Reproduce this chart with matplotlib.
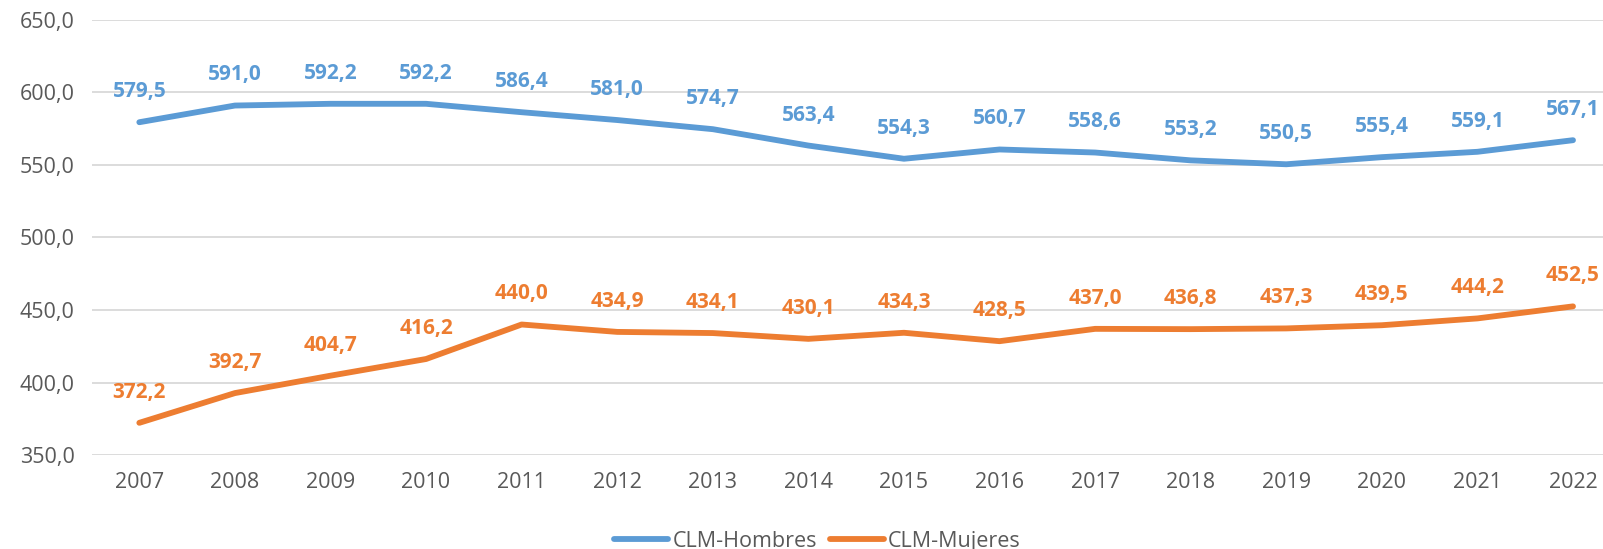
import matplotlib.pyplot as plt

plt.rcParams['font.family'] = ['Open Sans', 'DejaVu Sans']

years = [str(y) for y in range(2007, 2023)]
hombres = [579.5, 591.0, 592.2, 592.2, 586.4, 581.0, 574.7, 563.4,
           554.3, 560.7, 558.6, 553.2, 550.5, 555.4, 559.1, 567.1]
mujeres = [372.2, 392.7, 404.7, 416.2, 440.0, 434.9, 434.1, 430.1,
           434.3, 428.5, 437.0, 436.8, 437.3, 439.5, 444.2, 452.5]
yticks = [350, 400, 450, 500, 550, 600, 650]

c_h = '#5B9BD5'
c_m = '#ED7D31'
gray = '#595959'


def fmt(v):
    return f'{v:.1f}'.replace('.', ',')


fig = plt.figure(figsize=(16.03, 5.49), dpi=100)
ax = fig.add_axes([0.0571, 0.1712, 0.954, 0.7924])

x = list(range(len(years)))
ax.plot(x, hombres, color=c_h, lw=4.2, solid_capstyle='round', label='CLM-Hombres')
ax.plot(x, mujeres, color=c_m, lw=4.2, solid_capstyle='round', label='CLM-Mujeres')

for xi, v in zip(x, hombres):
    ax.annotate(fmt(v), (xi, v), xytext=(0, 22), textcoords='offset points',
                ha='center', va='center', color=c_h, fontsize=15, fontweight='bold')
for xi, v in zip(x, mujeres):
    ax.annotate(fmt(v), (xi, v), xytext=(0, 22), textcoords='offset points',
                ha='center', va='center', color=c_m, fontsize=15, fontweight='bold')

ax.set_xlim(-0.5, len(years) - 0.5)
ax.set_ylim(350, 650)
ax.set_yticks(yticks)
ax.set_yticklabels([fmt(v) for v in yticks])
ax.set_xticks(x)
ax.set_xticklabels(years)
ax.tick_params(axis='both', length=0, labelsize=15.5, colors=gray)
ax.tick_params(axis='x', pad=12)
ax.tick_params(axis='y', pad=12)
ax.grid(axis='y', color='#D9D9D9', lw=1.3)
ax.set_axisbelow(True)
for s in ax.spines.values():
    s.set_visible(False)

leg = fig.legend(loc='lower center', bbox_to_anchor=(0.51, -0.04), ncol=2,
                 frameon=False, fontsize=15.5, handlelength=2.5, columnspacing=0.6,
                 handletextpad=0.2)
for t in leg.get_texts():
    t.set_color(gray)

plt.savefig('out.png', dpi=100)
